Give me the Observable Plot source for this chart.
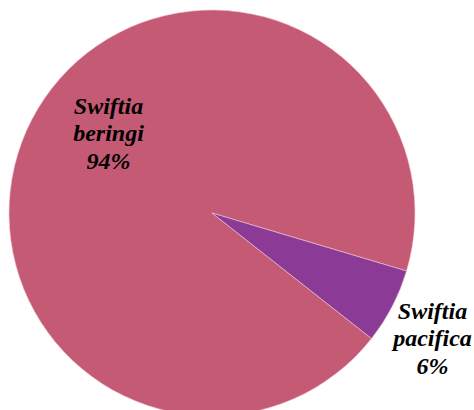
<!DOCTYPE html>
<html>
<head>
<meta charset="utf-8">
<script src="https://cdn.jsdelivr.net/npm/d3@7"></script>
<script src="https://cdn.jsdelivr.net/npm/@observablehq/plot@0.6"></script>
<style>
  html, body { margin: 0; padding: 0; background: #fff; overflow: hidden; }
</style>
</head>
<body>
<div id="chart"></div>
<script>
// ---- data ----
const species = ["Swiftia beringi", "Swiftia pacifica"];
const shares = [94, 6];
const shareLabels = ["94%", "6%"];
const sliceColors = ["#C55A74", "#8B3A96"];

// ---- layout (not data) ----
const W = 474, H = 410;
const cx = 212, cy = 213, R = 203;
const startAngle = 128.2 * Math.PI / 180;
const labelOffsets = [[-104, -81], [220, 124]];
const FONT = "Liberation Serif";

const data = species.map((s, i) => ({species: s, share: shares[i], label: shareLabels[i]}));
const color = d3.scaleOrdinal(species, sliceColors);
const arcs = d3.pie().sort(null).value(d => d.share)
  .startAngle(startAngle).endAngle(startAngle + 2 * Math.PI)(data);
const labelData = data.map((d, i) => ({
  text: d.species.replace(" ", "\n") + "\n" + d.label,
  x: cx + labelOffsets[i][0],
  y: cy + labelOffsets[i][1]
}));

function pieMark(index, scales) {
  const g = d3.create("svg:g").attr("transform", `translate(${scales.x(cx)},${scales.y(cy)})`);
  const arcGen = d3.arc().innerRadius(0).outerRadius(R);
  g.selectAll("path").data(arcs).join("path")
    .attr("d", arcGen)
    .attr("fill", d => color(d.data.species))
    .attr("stroke", "#f3c6d6")
    .attr("stroke-width", 0.6)
    .attr("stroke-linejoin", "round");
  return g.node();
}

const chart = Plot.plot({
  width: W, height: H, margin: 0,
  x: {type: "identity", axis: null},
  y: {type: "identity", axis: null},
  marks: [
    pieMark,
    Plot.text(labelData, {
      x: "x", y: "y", text: "text",
      lineAnchor: "middle", lineHeight: 1.15,
      fontSize: 24, fontWeight: "bold", fontStyle: "italic",
      fontFamily: FONT, fill: "#000"
    })
  ]
});
document.getElementById("chart").appendChild(chart);
</script>
</body>
</html>
